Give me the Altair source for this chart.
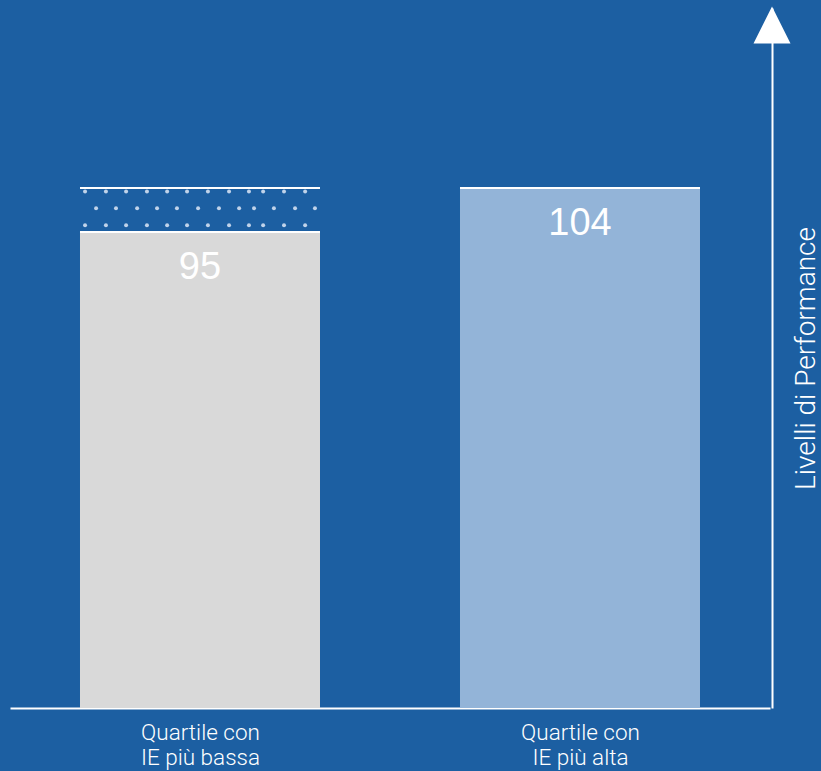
import altair as alt
import pandas as pd

# ---- data -------------------------------------------------------------
CATEGORIES = ["Quartile con\nIE più bassa", "Quartile con\nIE più alta"]
VALUES = [95, 104]
BAR_COLORS = ["#D9D9D9", "#93B4D8"]
GAP_LEVEL = 104          # the higher quartile's level, shown dotted above the lower bar
Y_TITLE = "Livelli di Performance"

# dotted pattern inside the gap (value levels and position across bar, 0..1)
DOT_ROWS_A = [103.3, 96.4]
DOT_ROWS_B = [99.85]
DOT_FRAC_A = [0.021, 0.108, 0.192, 0.279, 0.363, 0.446, 0.533, 0.621, 0.704, 0.763, 0.850, 0.938]
DOT_FRAC_B = [0.067, 0.150, 0.238, 0.321, 0.404, 0.492, 0.579, 0.663, 0.725, 0.808, 0.896, 0.979]

# ---- styling constants -------------------------------------------------
BG = "#1C5FA2"
HALF = 0.3158            # half bar width in category units
Y_DOMAIN = [-2.36, 140.82]
X_DOMAIN = [-0.5, 1.5]
W, H = 760, 700
FONT = "Roboto"

bars_df = pd.DataFrame({"idx": list(range(len(CATEGORIES))), "cat": CATEGORIES, "value": VALUES})
tops_df = pd.DataFrame({"idx": [0, 0, 1], "level": [VALUES[0], GAP_LEVEL, VALUES[1]]})

dot_rows = []
for lvl in DOT_ROWS_A:
    for f in DOT_FRAC_A:
        dot_rows.append({"u": -HALF + 2 * HALF * f, "v": lvl})
for lvl in DOT_ROWS_B:
    for f in DOT_FRAC_B:
        dot_rows.append({"u": -HALF + 2 * HALF * f, "v": lvl})
dots_df = pd.DataFrame(dot_rows)

lab_lines = [c.split("\n") for c in CATEGORIES]
label_expr = "[" + ", ".join("[" + ", ".join(f"'{l}'" for l in ls) + "]" for ls in lab_lines) + "][datum.value]"

xscale = alt.Scale(domain=X_DOMAIN, nice=False, zero=False)
yscale = alt.Scale(domain=Y_DOMAIN, nice=False, zero=False)

x_axis = alt.Axis(values=[0, 1], labelExpr=label_expr, ticks=False, grid=False,
                  domainColor="white", domainWidth=2, labelColor="white",
                  labelFont=FONT, labelFontWeight=300, labelFontSize=22.5, labelLineHeight=25,
                  labelPadding=13, title=None)
y_axis = alt.Axis(orient="right", offset=2, ticks=False, labels=False, grid=False,
                  domainColor="white", domainWidth=2, title=Y_TITLE, titleAngle=270,
                  titleColor="white", titleFont=FONT, titleFontSize=28,
                  titleFontWeight=300, titlePadding=48)

bars = alt.Chart(bars_df).transform_calculate(
    x0=f"datum.idx - {HALF}", x1=f"datum.idx + {HALF}"
).mark_bar().encode(
    x=alt.X("x0:Q", scale=xscale, axis=x_axis),
    x2="x1:Q",
    y=alt.Y("value:Q", scale=yscale, axis=y_axis),
    y2=alt.datum(Y_DOMAIN[0]),
    color=alt.Color("cat:N", scale=alt.Scale(domain=CATEGORIES, range=BAR_COLORS), legend=None),
)

tops = alt.Chart(tops_df).transform_calculate(
    x0=f"datum.idx - {HALF}", x1=f"datum.idx + {HALF}"
).mark_rule(color="white", strokeWidth=2).encode(
    x="x0:Q", x2="x1:Q", y="level:Q"
)

dots = alt.Chart(dots_df).mark_circle(color="#C9D9EE", size=16, opacity=0.95).encode(
    x="u:Q", y="v:Q"
)

labels = alt.Chart(bars_df).mark_text(
    baseline="alphabetic", dy=47, font="Liberation Sans", fontSize=38, color="white"
).encode(x="idx:Q", y="value:Q", text="value:Q")

arrow = alt.Chart(pd.DataFrame({"a": [0]})).mark_point(
    shape="M-1,1L1,1L0,-1Z", filled=True, color="white", size=1369, opacity=1, strokeWidth=0
).encode(x=alt.value(W + 2), y=alt.value(17))

chart = alt.layer(bars, tops, dots, labels, arrow).properties(
    width=W, height=H,
    autosize=alt.AutoSizeParams(type="none"),
    padding={"left": 10, "top": 8, "right": 51, "bottom": 63},
    background=BG,
).configure_view(stroke=None)

chart.save("out.html", embed_options={"renderer": "svg", "actions": False})
